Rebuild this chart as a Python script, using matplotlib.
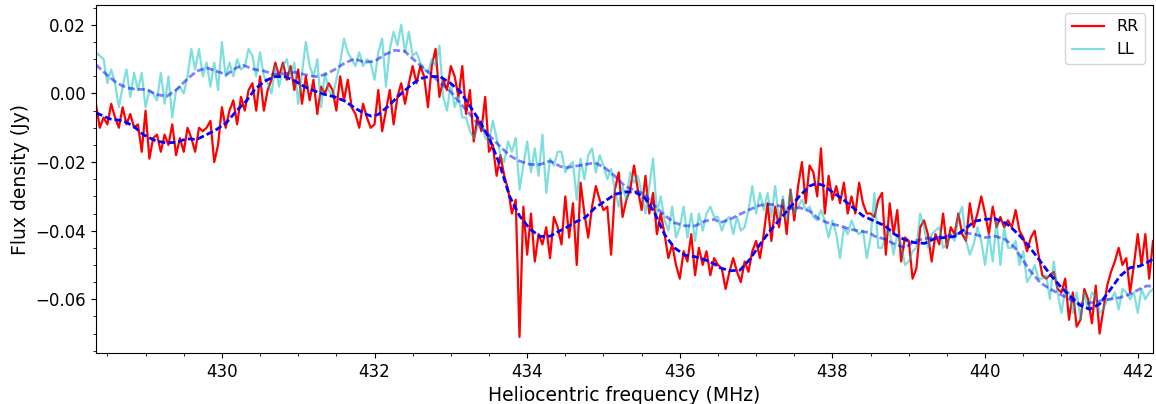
import numpy as np
import matplotlib
matplotlib.use("Agg")
import matplotlib.pyplot as plt

# channel grid: 0.05 MHz spacing starting at 428.35 MHz
f_start = 428.35
f_step = 0.05

# RR polarisation, mJy
rr_mjy = [-3, -10, -7, -9, -3, -7, -10, -4, -9, -6, -10, -9, -17, -5, -19, -13, -12, -17, -12, -15,
          -9, -18, -13, -17, -10, -13, -17, -10, -11, -10, -8, -20, -15, -4, -10, -5, -2, -9, -1, -5, 1,
          3, -5, 5, -5, 1, 4, 9, 5, 9, 4, 8, 1, 7, -3, 5, -2, 4, -6, 2, 0,
          3, 1, -5, 5, -2, 4, -4, -6, -10, -3, -7, -10, -9, 1, -11, -5, 1, -9, -1, 3, -3,
          3, 8, 3, 8, 5, -4, 8, 13, -1, 4, 1, 8, 5, -1, 8, -6, 1, -14, -7, -11,
          -1, -17, -15, -24, -18, -24, -28, -35, -31, -71, -33, -47, -35, -49, -41, -44, -39, -48, -36, -39,
          -44, -30, -42, -32, -50, -26, -35, -42, -33, -27, -31, -34, -33, -47, -28, -23, -36, -31, -28, -21,
          -28, -34, -24, -35, -29, -41, -35, -41, -48, -44, -50, -54, -46, -49, -41, -53, -45, -50, -46, -53, -48,
          -50, -51, -57, -52, -48, -52, -55, -49, -52, -46, -43, -48, -41, -32, -43, -33, -39, -31, -41, -28,
          -37, -27, -20, -32, -21, -23, -30, -16, -35, -24, -31, -27, -32, -26, -35, -30, -35, -26, -32, -35,
          -35, -36, -31, -29, -47, -32, -41, -34, -49, -42, -43, -54, -51, -39, -37, -41, -49, -41, -44, -35,
          -45, -39, -41, -35, -41, -43, -32, -39, -35, -30, -35, -41, -33, -39, -36, -39, -37, -39, -34, -40, -42,
          -46, -42, -40, -47, -53, -54, -53, -52, -57, -58, -54, -66, -58, -68, -66, -57, -60, -67, -56, -70,
          -63, -56, -52, -49, -45, -50, -48, -58, -50, -41, -50, -41, -54, -43]

# LL polarisation, mJy
ll_mjy = [12, 11, 10, 3, 7, 3, -4, 2, 7, -1, 6, 1, 6, -4, 1, 0, -2, 6, -3, 5,
          -7, 1, 2, 0, 5, 13, 7, 13, 5, 9, 2, 9, 1, 15, 5, 9, 5, 10, 7, 8, 13,
          11, 5, 12, 5, 3, 0, 8, 2, 8, 10, 5, 9, -3, 6, 15, 8, 5, 10, -4, 6,
          1, -1, 4, 9, 16, 12, 10, 8, 12, 8, 10, 9, 4, 12, 16, 2, 13, 18, 14, 20, 12,
          18, 11, 12, 9, 7, 6, 10, 8, 14, -1, -5, 3, -4, -1, -7, -7, -11, -13, -10, -8,
          -13, -14, -8, -13, -18, -20, -14, -17, -13, -28, -21, -14, -23, -16, -24, -12, -29, -19, -21, -17,
          -17, -23, -21, -20, -31, -19, -25, -18, -16, -23, -18, -21, -25, -22, -28, -33, -27, -31, -23, -26,
          -24, -29, -35, -27, -19, -35, -30, -37, -40, -33, -42, -39, -33, -42, -35, -43, -35, -40, -35, -33, -36,
          -36, -40, -37, -36, -41, -36, -40, -39, -34, -27, -35, -29, -34, -29, -36, -27, -37, -30, -37, -28,
          -35, -33, -31, -34, -33, -36, -37, -34, -37, -42, -37, -41, -48, -39, -41, -37, -40, -41, -40, -48,
          -42, -29, -45, -45, -41, -40, -47, -41, -44, -50, -49, -46, -45, -35, -39, -45, -41, -40, -39, -45,
          -44, -41, -43, -36, -33, -43, -47, -44, -39, -43, -50, -41, -49, -37, -50, -39, -45, -45, -43, -50, -46,
          -55, -53, -50, -54, -54, -53, -60, -49, -58, -64, -57, -58, -64, -58, -66, -58, -63, -58, -59, -64,
          -63, -60, -60, -58, -63, -57, -58, -60, -58, -64, -57, -60, -58, -57]

# smoothed fits (freq MHz, mJy)
rr_fit_f = [428.35, 428.53, 428.71, 428.84, 428.97, 429.14, 429.28, 429.41, 429.54, 429.67, 429.80, 429.93,
            430.06, 430.19, 430.32, 430.43, 430.56, 430.69, 430.83, 430.96, 431.09, 431.22, 431.35, 431.48,
            431.61, 431.74, 431.87, 431.96, 432.05, 432.18, 432.31, 432.46, 432.59, 432.72, 432.86, 432.99,
            433.12, 433.25, 433.38, 433.51, 433.64, 433.77, 433.90, 434.04, 434.17, 434.30, 434.43, 434.49,
            434.63, 434.76, 434.89, 435.02, 435.15, 435.28, 435.41, 435.54, 435.67, 435.80, 435.93, 436.07,
            436.20, 436.33, 436.46, 436.52, 436.66, 436.79, 436.92, 437.05, 437.18, 437.31, 437.44, 437.57,
            437.70, 437.79, 437.88, 438.01, 438.14, 438.27, 438.40, 438.55, 438.69, 438.82, 438.95, 439.08,
            439.21, 439.34, 439.47, 439.60, 439.73, 439.87, 440.00, 440.13, 440.26, 440.32, 440.46, 440.59,
            440.72, 440.85, 440.98, 441.11, 441.24, 441.37, 441.50, 441.63, 441.77, 441.90, 442.03, 442.12, 442.20]
rr_fit = [-5.6, -7.4, -8.0, -9.5, -12.0, -13.9, -14.4, -14.2, -13.2, -13.4, -12.0, -10.5,
          -8.5, -5.1, -2.2, 1.2, 3.6, 4.9, 4.9, 3.6, 1.9, 0.7, -0.3, -1.0,
          -2.2, -4.2, -5.9, -6.6, -6.1, -3.7, -0.8, 2.1, 4.3, 5.0, 4.9, 3.1,
          0.7, -3.7, -8.1, -13.4, -20.7, -30.0, -35.7, -39.6, -41.7, -41.6, -40.0, -39.4,
          -37.5, -36.2, -33.3, -31.4, -29.4, -28.7, -28.7, -30.4, -34.8, -41.1, -45.0, -47.2,
          -47.6, -48.5, -49.8, -50.8, -51.7, -51.5, -48.3, -44.0, -40.1, -36.7, -33.3, -29.9,
          -27.0, -26.2, -26.8, -28.9, -30.9, -33.3, -35.7, -37.2, -38.6, -41.1, -42.7, -43.5,
          -43.7, -42.3, -42.0, -41.7, -39.6, -37.2, -36.7, -36.5, -37.7, -38.6, -41.6, -45.0,
          -48.8, -52.7, -56.1, -59.0, -61.7, -62.9, -61.4, -57.5, -53.2, -50.8, -50.3, -49.3, -48.3]

ll_fit_f = [428.35, 428.49, 428.62, 428.75, 428.88, 429.01, 429.14, 429.28, 429.41, 429.54, 429.67, 429.80,
            429.93, 430.06, 430.19, 430.28, 430.43, 430.56, 430.69, 430.83, 430.96, 431.09, 431.22, 431.35,
            431.48, 431.61, 431.74, 431.87, 432.00, 432.14, 432.27, 432.40, 432.46, 432.59, 432.72, 432.86,
            432.99, 433.12, 433.25, 433.38, 433.51, 433.64, 433.77, 433.90, 434.04, 434.17, 434.30, 434.43,
            434.49, 434.63, 434.76, 434.89, 435.02, 435.15, 435.28, 435.41, 435.54, 435.67, 435.80, 435.93,
            436.07, 436.20, 436.33, 436.46, 436.52, 436.66, 436.79, 436.92, 437.05, 437.18, 437.31, 437.44,
            437.57, 437.70, 437.83, 437.96, 438.10, 438.23, 438.36, 438.49, 438.55, 438.69, 438.82, 438.95,
            439.08, 439.21, 439.34, 439.47, 439.60, 439.73, 439.87, 440.00, 440.13, 440.26, 440.39, 440.46,
            440.59, 440.72, 440.85, 440.98, 441.11, 441.24, 441.37, 441.50, 441.63, 441.77, 441.90, 442.03,
            442.12, 442.20]
ll_fit = [8.4, 5.5, 3.1, 1.7, 1.2, 1.2, -0.3, -0.8, 1.2, 4.1, 6.5, 7.5,
          6.5, 5.5, 7.5, 8.2, 7.0, 6.5, 5.5, 5.8, 6.2, 5.5, 4.9, 5.5,
          7.0, 8.9, 10.1, 9.1, 9.4, 11.4, 12.6, 12.3, 10.9, 8.4, 6.0, 3.1,
          0.7, -2.7, -6.1, -9.5, -12.4, -15.3, -18.1, -19.7, -20.7, -20.7, -19.7, -21.2,
          -21.7, -21.2, -20.7, -20.2, -21.7, -24.1, -27.0, -28.2, -29.4, -32.8, -35.5, -37.7,
          -38.6, -38.6, -37.2, -36.7, -37.7, -36.7, -35.2, -33.8, -32.6, -32.3, -32.8, -33.6,
          -33.3, -34.3, -36.7, -37.9, -38.6, -39.6, -40.1, -40.6, -41.6, -42.5, -44.0, -45.0,
          -43.0, -42.3, -42.0, -41.7, -41.1, -40.6, -41.1, -42.0, -41.6, -42.5, -45.0, -47.4,
          -51.7, -55.1, -57.0, -58.5, -60.0, -61.4, -61.1, -60.5, -60.0, -59.5, -58.5, -57.0,
          -56.1, -56.2]

freq = f_start + f_step * np.arange(len(rr_mjy))
rr = np.array(rr_mjy) / 1000.0
ll = np.array(ll_mjy) / 1000.0

fig, ax = plt.subplots(figsize=(11.56, 4.04), dpi=100)
fig.subplots_adjust(left=0.083, right=0.9974, top=0.9876, bottom=0.126)

ax.plot(freq, rr, color='red', lw=1.6, label='RR')
ax.plot(freq, ll, color='c', alpha=0.5, lw=1.6, label='LL')
ax.plot(rr_fit_f, np.array(rr_fit) / 1000.0, 'b--', lw=2, dashes=(2.5, 1.1))
ax.plot(ll_fit_f, np.array(ll_fit) / 1000.0, 'b--', lw=2, alpha=0.5, dashes=(2.5, 1.1))

ax.set_xlim(428.35, 442.2)
ax.set_ylim(-0.0757, 0.0258)
ax.minorticks_on()
ax.tick_params(labelsize=12)
ax.set_xlabel('Heliocentric frequency (MHz)', fontsize=13.5)
ax.set_ylabel('Flux density (Jy)', fontsize=13.5)
ax.legend(loc='upper right', fontsize=11.5)

plt.savefig('out.png')
